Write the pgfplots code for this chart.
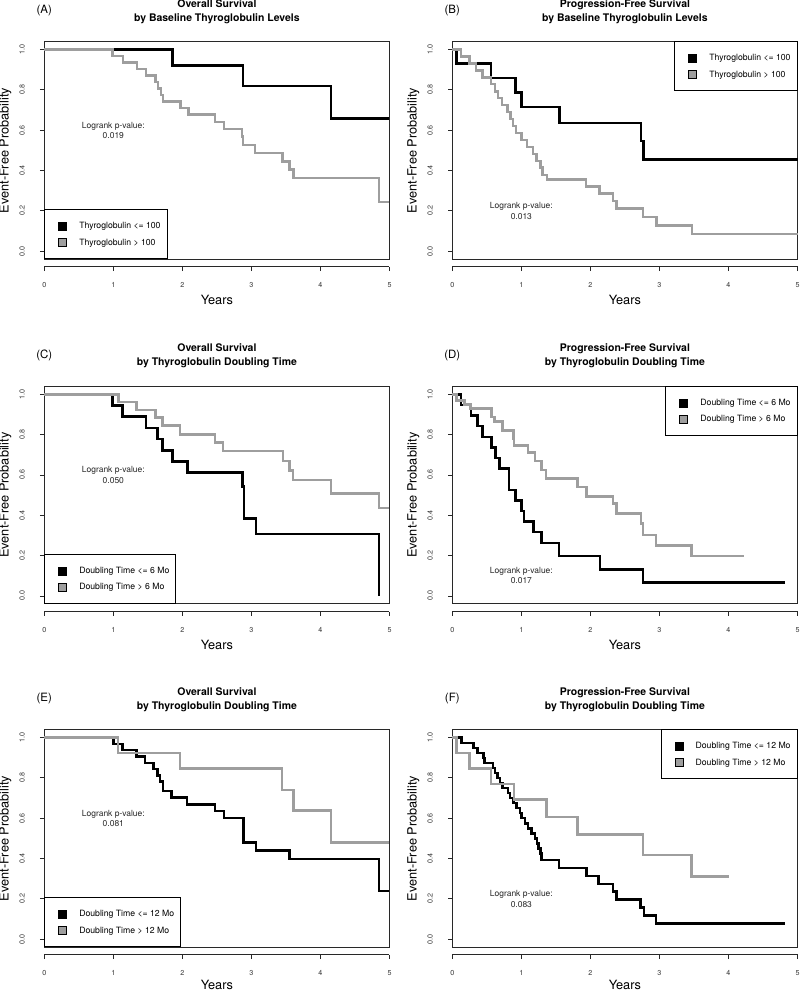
\documentclass[border=0pt]{standalone}
\usepackage{pgfplots}
\pgfplotsset{compat=1.18}
\usepackage{fontspec}
\setmainfont{TeX Gyre Heros}
\definecolor{kmgray}{RGB}{158,158,158}
\definecolor{axcol}{RGB}{40,40,40}
\tikzset{
  pval/.style={font=\fontsize{8.5}{10.3}\selectfont, align=center, text=black!85},
  plab/.style={font=\fontsize{11.5}{13}\selectfont},
}
\pgfplotsset{
  kmbox/.style={
    scale only axis, width=345.2bp, height=217.8bp,
    anchor=south west, clip=false,
    xmin=0, xmax=5, ymin=-0.04, ymax=1.04,
    xtick=\empty,
    ytick={0,0.2,0.4,0.6,0.8,1},
    yticklabels={0.0,0.2,0.4,0.6,0.8,1.0},
    tick align=outside, major tick length=4.3bp,
    ytick pos=left,
    tick style={line width=0.8bp, color=axcol},
    axis line style={line width=1bp, color=axcol},
    yticklabel style={rotate=90, anchor=south, inner sep=0pt, font=\fontsize{7.2}{8}\selectfont, text=black!80},
    yticklabel shift=15bp,
    every axis y label/.style={at={([xshift=-39bp]rel axis cs:0,0.5)}, rotate=90, anchor=center, font=\fontsize{12.8}{14}\selectfont},
    every axis x label/.style={at={([yshift=-40.5bp]rel axis cs:0.5,0)}, anchor=center, font=\fontsize{12.8}{14}\selectfont},
    every axis title/.style={at={(rel axis cs:0.5,1)}, anchor=south, yshift=18bp, inner sep=0pt, align=center, font=\bfseries\fontsize{10.5}{14}\selectfont},
    xlabel={Years}, ylabel={Event-Free Probability},
    legend cell align=left,
    legend style={draw=black, line width=0.9bp, fill=white, inner xsep=6.5bp, inner ysep=11.9bp, row sep=7.7bp, column sep=12.3bp, nodes={inner sep=0pt, font=\fontsize{8.7}{10}\selectfont}},
  },
  lastrow/.style={every axis x label/.style={at={([yshift=-37.5bp]rel axis cs:0.5,0)}, anchor=center, font=\fontsize{12.8}{14}\selectfont}},
  legSW/.style={legend style={at={(0,0)}, anchor=south west}},
  legNE/.style={legend style={at={(1,1)}, anchor=north east}},
  kmx/.style={
    scale only axis, width=345.2bp, height=5bp, anchor=south west,
    xmin=0, xmax=5, ymin=0, ymax=1,
    axis x line*=bottom, axis y line=none,
    xtick={0,1,2,3,4,5}, xticklabels={0,1,2,3,4,5},
    tick align=outside, major tick length=4.3bp,
    tick style={line width=0.8bp, color=axcol},
    axis line style={line width=1bp, color=axcol},
    xticklabel style={anchor=north, inner sep=0pt, font=\fontsize{7.2}{8}\selectfont, text=black!80},
    xticklabel shift=11.5bp,
  },
  blk/.style={const plot, line width=2.5bp, black,
     legend image code/.code={\path (0bp,0bp); \draw[line width=0.7bp, draw=black, fill=black] (6.2bp,-4bp) rectangle (14.2bp,4bp);}},
  gry/.style={const plot, line width=2.5bp, kmgray,
     legend image code/.code={\path (0bp,0bp); \draw[line width=0.7bp, draw=black, fill=kmgray] (6.2bp,-4bp) rectangle (14.2bp,4bp);}},
}
\begin{document}
\begin{tikzpicture}
\useasboundingbox (0bp,0bp) rectangle (800bp,993bp);
% ---------- Panel A ----------
\begin{axis}[kmbox, legSW, at={(44.3bp,733.7bp)}, title={Overall Survival\\by Baseline Thyroglobulin Levels}]
\addplot[blk] coordinates {(0,1) (1.855,0.92) (2.875,0.82) (4.155,0.657) (5,0.657)};
\addlegendentry{Thyroglobulin <= 100}
\addplot[gry] coordinates {(0,1) (0.99,0.968) (1.14,0.935) (1.34,0.903) (1.47,0.871) (1.61,0.839) (1.65,0.806) (1.69,0.774) (1.72,0.742) (1.97,0.71) (2.09,0.677) (2.47,0.642) (2.6,0.607) (2.86,0.568) (2.88,0.527) (3.05,0.486) (3.45,0.445) (3.55,0.405) (3.61,0.364) (4.85,0.245) (5,0.245)};
\addlegendentry{Thyroglobulin > 100}
\node[pval] at (axis cs:1,0.6) {Logrank p-value:\\0.019};
\node[plab] at ([yshift=30.5bp]rel axis cs:0,1) {(A)};
\end{axis}
\begin{axis}[kmx, at={(44.3bp,726.1bp)}]
\end{axis}
% ---------- Panel B ----------
\begin{axis}[kmbox, legNE, at={(452.3bp,733.7bp)}, title={Progression-Free Survival\\by Baseline Thyroglobulin Levels}]
\addplot[blk] coordinates {(0,1) (0.063,0.931) (0.56,0.859) (0.917,0.788) (1.0,0.714) (1.55,0.637) (2.73,0.546) (2.77,0.455) (5,0.455)};
\addlegendentry{Thyroglobulin <= 100}
\addplot[gry] coordinates {(0,1) (0.125,0.966) (0.25,0.931) (0.34,0.897) (0.44,0.862) (0.56,0.828) (0.62,0.793) (0.66,0.759) (0.72,0.724) (0.80,0.69) (0.84,0.655) (0.88,0.621) (0.92,0.586) (1.0,0.552) (1.08,0.517) (1.17,0.483) (1.22,0.448) (1.28,0.414) (1.31,0.379) (1.37,0.356) (1.94,0.321) (2.13,0.285) (2.33,0.249) (2.38,0.213) (2.765,0.17) (2.96,0.127) (3.47,0.085) (5,0.085)};
\addlegendentry{Thyroglobulin > 100}
\node[pval] at (axis cs:1,0.2) {Logrank p-value:\\0.013};
\node[plab] at ([yshift=30.5bp]rel axis cs:0,1) {(B)};
\end{axis}
\begin{axis}[kmx, at={(452.3bp,726.1bp)}]
\end{axis}
% ---------- Panel C ----------
\begin{axis}[kmbox, legSW, at={(44.3bp,389bp)}, title={Overall Survival\\by Thyroglobulin Doubling Time}]
\addplot[blk] coordinates {(0,1) (0.99,0.944) (1.135,0.889) (1.47,0.833) (1.643,0.778) (1.71,0.722) (1.855,0.667) (2.077,0.611) (2.87,0.543) (2.89,0.385) (3.068,0.308) (4.85,0.0)};
\addlegendentry{Doubling Time <= 6 Mo}
\addplot[gry] coordinates {(0,1) (1.072,0.962) (1.338,0.923) (1.609,0.885) (1.71,0.846) (1.966,0.8) (2.473,0.76) (2.585,0.719) (3.454,0.669) (3.551,0.623) (3.6,0.574) (4.155,0.508) (4.85,0.436) (5,0.436)};
\addlegendentry{Doubling Time > 6 Mo}
\node[pval] at (axis cs:1,0.6) {Logrank p-value:\\0.050};
\node[plab] at ([yshift=30.5bp]rel axis cs:0,1) {(C)};
\end{axis}
\begin{axis}[kmx, at={(44.3bp,381.4bp)}]
\end{axis}
% ---------- Panel D ----------
\begin{axis}[kmbox, legNE, at={(452.3bp,389bp)}, title={Progression-Free Survival\\by Thyroglobulin Doubling Time}]
\addplot[blk] coordinates {(0,1) (0.125,0.947) (0.27,0.895) (0.362,0.842) (0.44,0.789) (0.57,0.737) (0.627,0.684) (0.68,0.632) (0.82,0.526) (0.912,0.474) (1.004,0.421) (1.04,0.368) (1.173,0.316) (1.293,0.263) (1.549,0.197) (2.138,0.131) (2.765,0.066) (4.817,0.066)};
\addlegendentry{Doubling Time <= 6 Mo}
\addplot[gry] coordinates {(0,1) (0.063,0.97) (0.18,0.95) (0.265,0.929) (0.569,0.888) (0.608,0.866) (0.724,0.821) (0.883,0.78) (0.892,0.747) (1.1,0.71) (1.2,0.67) (1.29,0.625) (1.36,0.582) (1.81,0.54) (1.945,0.494) (2.33,0.458) (2.38,0.408) (2.73,0.359) (2.765,0.302) (2.95,0.251) (3.465,0.198) (4.223,0.198)};
\addlegendentry{Doubling Time > 6 Mo}
\node[pval] at (axis cs:1,0.1) {Logrank p-value:\\0.017};
\node[plab] at ([yshift=30.5bp]rel axis cs:0,1) {(D)};
\end{axis}
\begin{axis}[kmx, at={(452.3bp,381.4bp)}]
\end{axis}
% ---------- Panel E ----------
\begin{axis}[kmbox, lastrow, legSW, at={(44.3bp,45.7bp)}, title={Overall Survival\\by Thyroglobulin Doubling Time}]
\addplot[blk] coordinates {(0,1) (1.0,0.969) (1.13,0.938) (1.339,0.906) (1.459,0.875) (1.58,0.844) (1.638,0.813) (1.677,0.781) (1.716,0.736) (1.846,0.702) (2.07,0.669) (2.474,0.636) (2.604,0.601) (2.884,0.479) (3.068,0.44) (3.551,0.399) (4.85,0.239) (5,0.239)};
\addlegendentry{Doubling Time <= 12 Mo}
\addplot[gry] coordinates {(0,1) (1.065,0.923) (1.966,0.846) (3.44,0.741) (3.609,0.639) (4.155,0.479) (5,0.479)};
\addlegendentry{Doubling Time > 12 Mo}
\node[pval] at (axis cs:1,0.6) {Logrank p-value:\\0.081};
\node[plab] at ([yshift=30.5bp]rel axis cs:0,1) {(E)};
\end{axis}
\begin{axis}[kmx, at={(44.3bp,38.1bp)}]
\end{axis}
% ---------- Panel F ----------
\begin{axis}[kmbox, lastrow, legNE, at={(452.3bp,45.7bp)}, title={Progression-Free Survival\\by Thyroglobulin Doubling Time}]
\addplot[blk] coordinates {(0,1) (0.135,0.974) (0.304,0.948) (0.362,0.923) (0.449,0.899) (0.463,0.875) (0.593,0.85) (0.617,0.825) (0.651,0.8) (0.69,0.775) (0.728,0.75) (0.81,0.725) (0.835,0.7) (0.883,0.675) (0.93,0.65) (0.98,0.625) (1.003,0.6) (1.05,0.575) (1.10,0.55) (1.148,0.525) (1.196,0.5) (1.23,0.475) (1.245,0.45) (1.278,0.425) (1.293,0.392) (1.549,0.353) (1.944,0.314) (2.12,0.275) (2.33,0.236) (2.38,0.198) (2.727,0.157) (2.775,0.117) (2.949,0.078) (4.817,0.078)};
\addlegendentry{Doubling Time <= 12 Mo}
\addplot[gry] coordinates {(0,1) (0.063,0.924) (0.246,0.847) (0.56,0.769) (0.897,0.694) (1.365,0.606) (1.814,0.519) (2.765,0.417) (3.465,0.31) (4.006,0.31)};
\addlegendentry{Doubling Time > 12 Mo}
\node[pval] at (axis cs:1,0.2) {Logrank p-value:\\0.083};
\node[plab] at ([yshift=30.5bp]rel axis cs:0,1) {(F)};
\end{axis}
\begin{axis}[kmx, at={(452.3bp,38.1bp)}]
\end{axis}
\end{tikzpicture}
\end{document}
